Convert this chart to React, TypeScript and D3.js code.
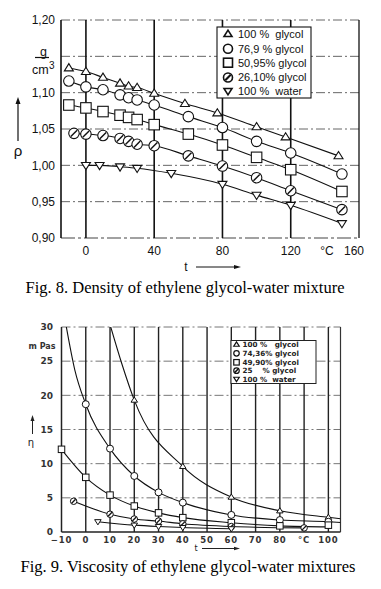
import React from "react";
import * as d3 from "d3";

// ---------- Fig. 8 data (density, g/cm3) ----------
const densSeries = ["100 %  glycol", "76,9 % glycol", "50,95% glycol", "26,10% glycol", "100 %  water"];
const densT100 = [-10, 0, 10, 20, 25, 30, 40, 58, 77, 100, 117, 148];
const densV100 = [1.134, 1.129, 1.121, 1.113, 1.109, 1.107, 1.099, 1.085, 1.072, 1.053, 1.039, 1.013];
const densT769 = [-10, 0, 10, 20, 25, 30, 40, 60, 80, 100, 120, 150];
const densV769 = [1.116, 1.108, 1.104, 1.097, 1.093, 1.09, 1.083, 1.067, 1.052, 1.033, 1.017, 0.988];
const densT5095 = [-10, 0, 10, 20, 25, 30, 40, 60, 80, 100, 120, 150];
const densV5095 = [1.083, 1.079, 1.074, 1.069, 1.066, 1.063, 1.056, 1.043, 1.028, 1.011, 0.994, 0.964];
const densT2610 = [-7, 0, 10, 20, 25, 30, 40, 60, 80, 100, 120, 150];
const densV2610 = [1.044, 1.043, 1.041, 1.037, 1.033, 1.029, 1.027, 1.013, 0.999, 0.983, 0.965, 0.939];
const densTW = [0, 8, 20, 30, 50, 80, 100, 120, 150];
const densVW = [1.0, 1.0, 0.998, 0.996, 0.989, 0.974, 0.959, 0.945, 0.92];
const densYTicks = [0.9, 0.95, 1.0, 1.05, 1.1, 1.15, 1.2];
const densYLabels = ["0,90", "0,95", "1,00", "1,05", "1,10", "", "1,20"];
const densXTicks = [0, 40, 80, 120];
const densGridY = [0.95, 1.0, 1.05, 1.1, 1.15, 1.2];

// ---------- Fig. 9 data (viscosity, mPas) ----------
const viscSeries = ["100 %   glycol", "74,36% glycol", "49,90% glycol", "25    % glycol", "100 %  water"];
const viscT100 = [20, 40, 60, 80, 100];
const viscV100 = [19.3, 9.6, 5.1, 3.1, 2.15];
const viscCurveT100 = [10.3, 14.8, 20, 40, 60, 80, 100, 105];
const viscCurveV100 = [30, 24.7, 19.3, 9.6, 5.1, 3.1, 2.15, 1.95];
const viscT74 = [0, 10, 20, 30, 40, 60, 80, 100];
const viscV74 = [18.7, 12.2, 8.2, 5.8, 4.3, 2.5, 1.75, 1.5];
const viscCurveT74 = [-8, -4.5, 0, 10, 20, 30, 40, 60, 80, 100, 105];
const viscCurveV74 = [30, 23.7, 18.7, 12.2, 8.2, 5.8, 4.3, 2.5, 1.75, 1.5, 1.4];
const viscT49 = [-10, 0, 10, 20, 30, 40, 60, 80, 100];
const viscV49 = [12.1, 8.0, 5.4, 3.8, 2.8, 2.1, 1.36, 0.9, 1.0];
const viscT25 = [-5, 10, 20, 30, 40, 60, 90];
const viscV25 = [4.5, 2.6, 1.9, 1.6, 1.2, 0.8, 0.6];
const viscTW = [5, 20, 30, 40, 60];
const viscVW = [1.5, 1.0, 0.8, 0.65, 0.47];
const viscYTicks = [0, 5, 10, 15, 20, 25, 30];
const viscXTicks = [-10, 0, 10, 20, 30, 40, 50, 60, 70, 80, 90, 100];
const viscXLabels = ["\u221210", "0", "10", "20", "30", "40", "50", "60", "70", "80", "\u00b0C", "100"];

type MType = "tri" | "circ" | "sq" | "hatch" | "dtri";
const markerTypes: MType[] = ["tri", "circ", "sq", "hatch", "dtri"];

function Marker({ type, x, y, s, sw = 1.1 }: { type: MType; x: number; y: number; s: number; sw?: number }) {
  const common = { fill: "#fff", stroke: "#111", strokeWidth: sw };
  if (type === "tri") {
    const h = s * 0.8;
    return <path d={`M${x},${y - h * 0.6}L${x - s / 2},${y + h * 0.4}L${x + s / 2},${y + h * 0.4}Z`} {...common} />;
  }
  if (type === "dtri") {
    const h = s * 0.8;
    return <path d={`M${x},${y + h * 0.6}L${x - s / 2},${y - h * 0.4}L${x + s / 2},${y - h * 0.4}Z`} {...common} />;
  }
  if (type === "sq") {
    return <rect x={x - s / 2} y={y - s / 2} width={s} height={s} {...common} />;
  }
  if (type === "circ") {
    return <circle cx={x} cy={y} r={s / 2} {...common} />;
  }
  const r = s / 2;
  return (
    <g>
      <circle cx={x} cy={y} r={r} {...common} />
      <line x1={x - r * 0.6} y1={y + r * 0.6} x2={x + r * 0.6} y2={y - r * 0.6} stroke="#111" strokeWidth={sw * 1.3} />
    </g>
  );
}

export default function App() {
  // ---------- top chart scales ----------
  const xT = d3.scaleLinear().domain([-14.6, 160]).range([61, 359]);
  const yT = d3.scaleLinear().domain([0.9, 1.2]).range([238, 20]);
  const lineT = d3
    .line<[number, number]>()
    .x((d) => xT(d[0]))
    .y((d) => yT(d[1]))
    .curve(d3.curveMonotoneX);

  const densData: [number[], number[]][] = [
    [densT100, densV100],
    [densT769, densV769],
    [densT5095, densV5095],
    [densT2610, densV2610],
    [densTW, densVW],
  ];

  // ---------- bottom chart scales ----------
  const xB = d3.scaleLinear().domain([-10, 105]).range([61.5, 340.5]);
  const yB = d3.scaleLinear().domain([0, 30]).range([532, 327]);
  const lineB = d3
    .line<[number, number]>()
    .x((d) => xB(d[0]))
    .y((d) => yB(d[1]))
    .curve(d3.curveMonotoneX);

  const viscMarks: [number[], number[]][] = [
    [viscT100, viscV100],
    [viscT74, viscV74],
    [viscT49, viscV49],
    [viscT25, viscV25],
    [viscTW, viscVW],
  ];
  const viscCurves: [number[], number[]][] = [
    [viscCurveT100, viscCurveV100],
    [viscCurveT74, viscCurveV74],
    [viscT49, viscV49.map((v, i) => (i === viscV49.length - 1 ? 0.75 : v))],
    [viscT25, viscV25],
    [viscTW, viscVW],
  ];

  const zip = (a: number[], b: number[]) => a.map((t, i) => [t, b[i]] as [number, number]);

  const sans = "'Liberation Sans', Arial, sans-serif";
  const dv = "'DejaVu Sans', Verdana, sans-serif";
  const serif = "'Liberation Serif', 'Times New Roman', serif";

  return (
    <svg width={381} height={589} style={{ position: "absolute", left: 0, top: 0, background: "#fff" }}>
      <defs>
        <clipPath id="clipB">
          <rect x={61.5} y={327} width={279} height={205} />
        </clipPath>
        <clipPath id="clipT">
          <rect x={61} y={20} width={298} height={218} />
        </clipPath>
      </defs>
      <rect width={381} height={589} fill="#fff" />

      {/* ================= TOP CHART ================= */}
      {densGridY.map((v) => (
        <line key={v} x1={61} x2={359} y1={yT(v)} y2={yT(v)} stroke="#666" strokeWidth={1} strokeDasharray="9 3 2 3" />
      ))}
      <line x1={61} x2={359} y1={yT(0.9)} y2={yT(0.9)} stroke="#444" strokeWidth={1.1} strokeDasharray="14 3 3 3" />
      {densXTicks.map((t) => (
        <line key={t} x1={xT(t)} x2={xT(t)} y1={20} y2={238} stroke="#111" strokeWidth={1.6} />
      ))}
      <line x1={61} x2={61} y1={20} y2={238} stroke="#111" strokeWidth={1.6} />
      <line x1={359} x2={359} y1={20} y2={238} stroke="#111" strokeWidth={1.3} />

      <g clipPath="url(#clipT)">
        {densData.map(([ts, vs], i) => (
          <path key={i} d={lineT(zip(ts, vs)) || ""} fill="none" stroke="#111" strokeWidth={1.1} />
        ))}
      </g>
      {densData.map(([ts, vs], i) =>
        ts.map((t, j) => <Marker key={`${i}-${j}`} type={markerTypes[i]} x={xT(t)} y={yT(vs[j])} s={i === 0 || i === 4 ? 9 : 10.5} />)
      )}

      {/* legend top */}
      <rect x={217} y={27} width={94} height={71} fill="#fff" stroke="#111" strokeWidth={1.1} />
      {densSeries.map((s, i) => {
        const yy = [34, 48.7, 62.7, 77.5, 91][i];
        return (
          <g key={s}>
            <Marker type={markerTypes[i]} x={228} y={yy} s={i === 0 || i === 4 ? 8 : 9} sw={1.6} />
            <text x={238} y={yy} dy="0.36em" fontFamily={sans} fontSize={11} fill="#111" style={{ whiteSpace: "pre" }}>
              {s}
            </text>
          </g>
        );
      })}

      {/* top axes text */}
      {densYTicks.map((v, i) =>
        densYLabels[i] ? (
          <text key={v} x={55} y={yT(v)} dy="0.36em" textAnchor="end" fontFamily={sans} fontSize={12} fill="#111">
            {densYLabels[i]}
          </text>
        ) : null
      )}
      <text x={43.5} y={56} textAnchor="middle" fontFamily={sans} fontSize={12.5} fill="#111">g</text>
      <line x1={35} x2={49} y1={57.5} y2={57.5} stroke="#111" strokeWidth={1.2} />
      <text x={32} y={74} fontFamily={sans} fontSize={12.5} fill="#111">cm</text>
      <text x={49} y={69} fontFamily={sans} fontSize={10} fill="#111">3</text>
      <text x={18} y={156} textAnchor="middle" fontFamily={sans} fontSize={15} fill="#111">ρ</text>
      <line x1={18} x2={18} y1={141} y2={101} stroke="#111" strokeWidth={1.2} />
      <path d="M18,97L15.5,104L20.5,104Z" fill="#111" />
      {densXTicks.map((t) => (
        <text key={t} x={xT(t)} y={251} dy="0.36em" textAnchor="middle" fontFamily={sans} fontSize={12} fill="#111">
          {t}
        </text>
      ))}
      <text x={327} y={251} dy="0.36em" textAnchor="middle" fontFamily={sans} fontSize={12} fill="#111">°C</text>
      <text x={354} y={251} dy="0.36em" textAnchor="middle" fontFamily={sans} fontSize={12} fill="#111">160</text>
      <text x={186} y={267} dy="0.36em" textAnchor="middle" fontFamily={sans} fontSize={12} fill="#111">t</text>
      <line x1={196} x2={236} y1={267} y2={267} stroke="#111" strokeWidth={1} />
      <path d="M241,267L234,265L234,269Z" fill="#111" />

      <text x={185} y={292.5} textAnchor="middle" fontFamily={serif} fontSize={16.5} fill="#000">
        Fig. 8. Density of ethylene glycol-water mixture
      </text>

      {/* ================= BOTTOM CHART ================= */}
      {viscYTicks.filter((v) => v > 0).map((v) => (
        <line key={v} x1={61.5} x2={340.5} y1={yB(v)} y2={yB(v)} stroke="#777" strokeWidth={1} strokeDasharray="9 3 2 3" />
      ))}
      <line x1={61.5} x2={340.5} y1={yB(0)} y2={yB(0)} stroke="#222" strokeWidth={1.3} />
      {viscXTicks.filter((t) => t > -10).map((t) => (
        <line key={t} x1={xB(t)} x2={xB(t)} y1={327} y2={532} stroke="#222" strokeWidth={1.4} />
      ))}
      <line x1={61.5} x2={61.5} y1={327} y2={532} stroke="#222" strokeWidth={1.5} />
      <line x1={340.5} x2={340.5} y1={327} y2={532} stroke="#333" strokeWidth={1.2} />

      <g clipPath="url(#clipB)">
        {viscCurves.map(([ts, vs], i) => (
          <path key={i} d={lineB(zip(ts, vs)) || ""} fill="none" stroke="#111" strokeWidth={1.1} />
        ))}
      </g>
      {viscMarks.map(([ts, vs], i) =>
        ts.map((t, j) => <Marker key={`b${i}-${j}`} type={markerTypes[i]} x={xB(t)} y={yB(vs[j])} s={i === 1 ? 7 : 6.5} sw={1} />)
      )}

      {/* legend bottom */}
      <rect x={231} y={340.5} width={85} height={43} fill="#fff" stroke="#222" strokeWidth={1} />
      {viscSeries.map((s, i) => {
        const yy = [344.5, 353.3, 362.3, 370.7, 379][i];
        return (
          <g key={s}>
            <Marker type={markerTypes[i]} x={236.5} y={yy} s={5.5} sw={1.2} />
            <text x={242.5} y={yy} dy="0.36em" fontFamily={dv} fontSize={7.2} fontWeight="bold" fill="#222" style={{ whiteSpace: "pre" }}>
              {s}
            </text>
          </g>
        );
      })}

      {/* bottom axes text */}
      {viscYTicks.map((v) => (
        <text key={v} x={53} y={yB(v)} dy="0.36em" textAnchor="end" fontFamily={dv} fontSize={9} fontWeight="bold" fill="#333">
          {v}
        </text>
      ))}
      <text x={42} y={346} dy="0.36em" textAnchor="middle" fontFamily={dv} fontSize={8} fontWeight="bold" fill="#333">m Pas</text>
      <line x1={32.5} x2={32.5} y1={434} y2={419} stroke="#222" strokeWidth={1} />
      <path d="M32.5,415L30.5,421L34.5,421Z" fill="#222" />
      <text x={31} y={442} dy="0.36em" textAnchor="middle" fontFamily={dv} fontSize={10} fill="#222">η</text>
      {viscXTicks.map((t, i) => (
        <text key={t} x={xB(t)} y={539.5} dy="0.36em" textAnchor="middle" fontFamily={dv} fontSize={8.5} fontWeight="bold" fill="#333" letterSpacing={0.8}>
          {viscXLabels[i]}
        </text>
      ))}
      <text x={196} y={548} dy="0.36em" textAnchor="middle" fontFamily={dv} fontSize={8} fill="#222">t</text>
      <line x1={202} x2={236} y1={548.5} y2={548.5} stroke="#222" strokeWidth={1} />
      <path d="M240,548.5L234,546.8L234,550.2Z" fill="#222" />

      <text x={188} y={572} textAnchor="middle" fontFamily={serif} fontSize={16.5} fill="#000">
        Fig. 9. Viscosity of ethylene glycol-water mixtures
      </text>
    </svg>
  );
}
